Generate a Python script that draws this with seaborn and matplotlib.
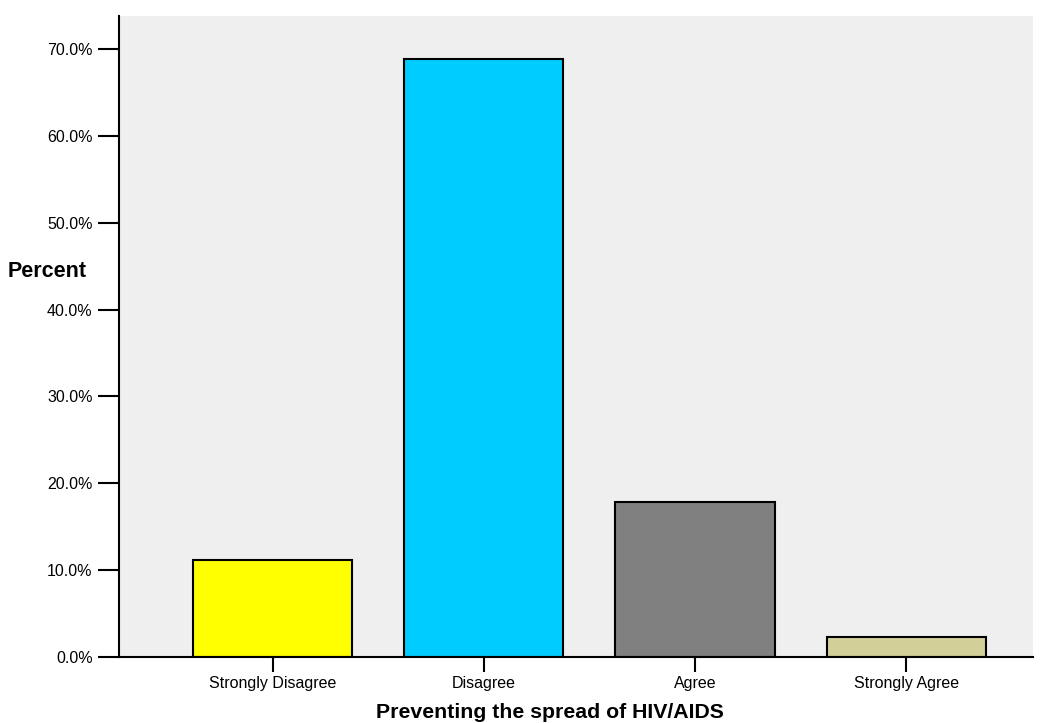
import pandas as pd
import matplotlib.pyplot as plt
import seaborn as sns

categories = ["Strongly Disagree", "Disagree", "Agree", "Strongly Agree"]
percents = [11.2, 68.9, 17.85, 2.3]
bar_colors = ["#ffff00", "#00ccff", "#808080", "#d3cf98"]
y_ticks = [0, 10, 20, 30, 40, 50, 60, 70]


def main():
    df = pd.DataFrame({"response": categories, "percent": percents})

    sns.set_style("white")
    plt.rcParams["font.family"] = ["Liberation Sans", "DejaVu Sans"]
    plt.rcParams["text.color"] = "black"
    plt.rcParams["axes.labelcolor"] = "black"
    plt.rcParams["xtick.color"] = "black"
    plt.rcParams["ytick.color"] = "black"

    fig = plt.figure(figsize=(10.47, 7.23), dpi=100)
    ax = fig.add_axes([0.1137, 0.0913, 0.8729, 0.8866])
    ax.set_facecolor("#efefef")

    sns.barplot(data=df, x="response", y="percent", hue="response",
                palette=bar_colors, order=categories, hue_order=categories,
                width=0.754, edgecolor="black", linewidth=1.5,
                saturation=1, legend=False, ax=ax)

    ax.set_xlim(-0.727, 3.6)
    ax.set_ylim(0, 73.8)
    ax.set_yticks(y_ticks)
    ax.set_yticklabels([f"{v:.1f}%" for v in y_ticks], fontsize=11.5)
    ax.tick_params(axis="x", labelsize=11.5, length=11, width=1.5,
                   direction="out", bottom=True, pad=3)
    ax.tick_params(axis="y", length=15, width=1.5, direction="out",
                   left=True, pad=4)

    for side in ["top", "right"]:
        ax.spines[side].set_visible(False)
    for side in ["left", "bottom"]:
        ax.spines[side].set_color("black")
        ax.spines[side].set_linewidth(1.5)

    ax.set_xlabel("Preventing the spread of HIV/AIDS", fontsize=15.3,
                  fontweight="bold")
    ax.xaxis.set_label_coords(0.4716, -0.072)
    ax.set_ylabel("Percent", fontsize=15.5, fontweight="bold", rotation=0,
                  ha="center", va="center")
    ax.yaxis.set_label_coords(-0.0788, 0.6006)

    fig.savefig("out.png", dpi=100, facecolor="white")


if __name__ == "__main__":
    main()
